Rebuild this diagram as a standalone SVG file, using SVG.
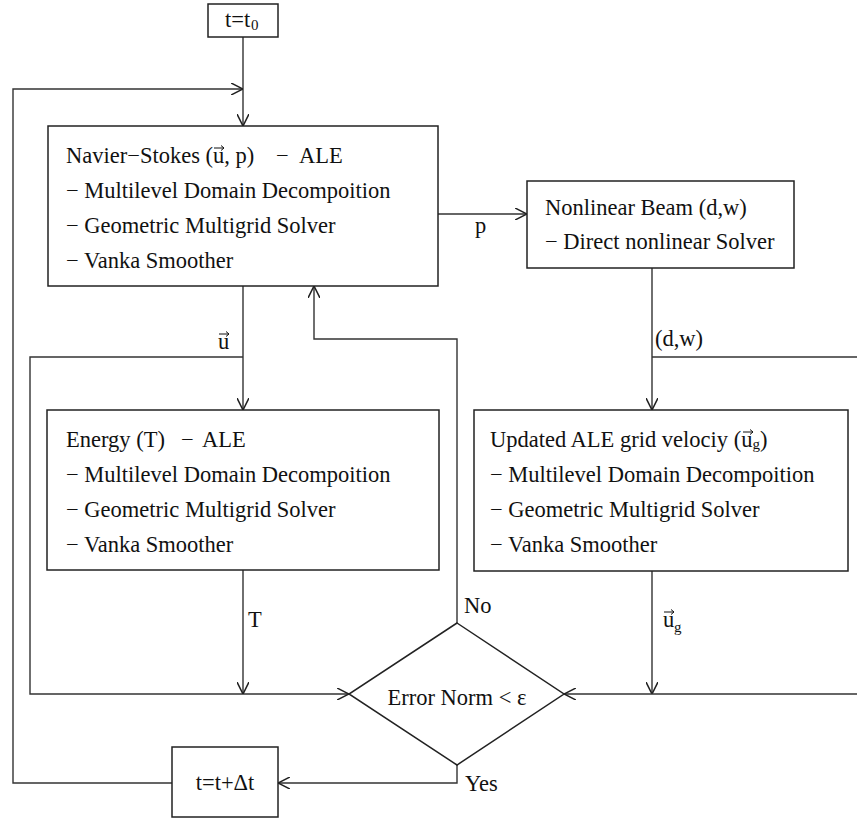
<svg xmlns="http://www.w3.org/2000/svg" width="857" height="820" viewBox="0 0 857 820">
<defs>
<marker id="ah" markerWidth="12" markerHeight="12" refX="10" refY="5" orient="auto" markerUnits="userSpaceOnUse" viewBox="0 0 10 10">
<path d="M0,0 L10,5 L0,10" fill="none" stroke="#222" stroke-width="1.3"/>
</marker>
<style>
.box{fill:#fff;stroke:#222;stroke-width:1.5}
.ln{fill:none;stroke:#333;stroke-width:1.4}
.ar{fill:none;stroke:#333;stroke-width:1.4;marker-end:url(#ah)}
text{font-family:"Liberation Serif","Times New Roman",serif;font-size:22.5px;fill:#111}
.sub{font-size:15px}
.vec{fill:none;stroke:#111;stroke-width:1}
</style>
</defs>
<rect width="857" height="820" fill="#fff"/>
<g id="connectors">
<path class="ar" d="M243,37 V126"/>
<path class="ar" d="M172,783 H13 V89 H243"/>
<path class="ar" d="M438,214 H527"/>
<path class="ar" d="M243,286 V410"/>
<path class="ar" d="M243,357 H30 V694 H349"/>
<path class="ar" d="M652,268 V410"/>
<path class="ln" d="M652,357 H857"/>
<path class="ar" d="M243,570 V694"/>
<path class="ar" d="M652,571 V694"/>
<path class="ar" d="M857,694 H564"/>
<path class="ar" d="M457,623 V339 H314 V286"/>
<path class="ar" d="M457,765 V783 H278"/>
<text x="475" y="233">p</text>
<text x="218" y="349">u</text>
<path class="vec" d="M219,334 h10 M226,331.5 l3,2.5 l-3,2.5"/>
<text x="655" y="346">(d,w)</text>
<text x="248" y="627">T</text>
<text x="663" y="627">u</text><text class="sub" x="674" y="632">g</text>
<path class="vec" d="M664,612 h10 M671,609.5 l3,2.5 l-3,2.5"/>
<text x="464" y="613">No</text>
<text x="465" y="791">Yes</text>
</g>
<g id="start">
<rect class="box" x="208" y="4" width="70" height="33"/>
<text x="225" y="27">t=t</text><text class="sub" x="251" y="30">0</text>
</g>
<g id="navier-stokes">
<rect class="box" x="48" y="126" width="390" height="160"/>
<text x="66" y="163">Navier−Stokes (u, p)</text>
<path class="vec" d="M214,148 h10 M221,145.5 l3,2.5 l-3,2.5"/>
<text x="276" y="163">−</text>
<text x="299" y="163">ALE</text>
<text x="66" y="198">− Multilevel Domain Decompoition</text>
<text x="66" y="233">− Geometric Multigrid Solver</text>
<text x="66" y="268">− Vanka Smoother</text>
</g>
<g id="beam">
<rect class="box" x="527" y="181" width="267" height="87"/>
<text x="545" y="215">Nonlinear Beam (d,w)</text>
<text x="545" y="249">− Direct nonlinear Solver</text>
</g>
<g id="energy">
<rect class="box" x="47" y="410" width="392" height="160"/>
<text x="66" y="447">Energy (T)</text>
<text x="181" y="447">−</text>
<text x="202" y="447">ALE</text>
<text x="66" y="482">− Multilevel Domain Decompoition</text>
<text x="66" y="517">− Geometric Multigrid Solver</text>
<text x="66" y="552">− Vanka Smoother</text>
</g>
<g id="ale-grid">
<rect class="box" x="474" y="410" width="374" height="161"/>
<text x="490" y="447">Updated ALE grid velociy (u<tspan class="sub" dy="2">g</tspan><tspan dy="-2">)</tspan></text>
<path class="vec" d="M743,432 h10 M750,429.5 l3,2.5 l-3,2.5"/>
<text x="490" y="482">− Multilevel Domain Decompoition</text>
<text x="490" y="517">− Geometric Multigrid Solver</text>
<text x="490" y="552">− Vanka Smoother</text>
</g>
<g id="decision">
<polygon class="box" points="457,623 564,694 457,765 349,694"/>
<text x="457" y="705" text-anchor="middle">Error Norm &lt; ε</text>
</g>
<g id="advance">
<rect class="box" x="172" y="747" width="106" height="70"/>
<text x="225" y="790" text-anchor="middle">t=t+Δt</text>
</g>
</svg>
